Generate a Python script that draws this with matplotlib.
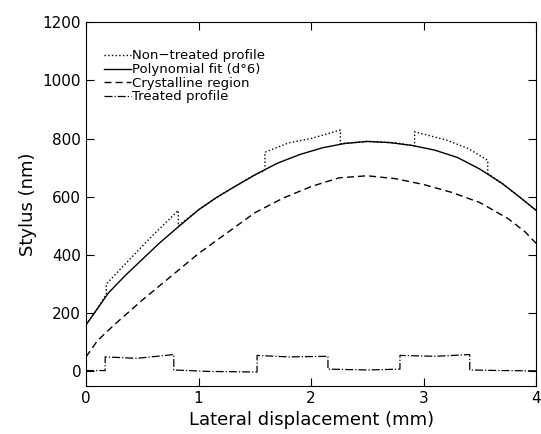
import numpy as np
import matplotlib
matplotlib.use("Agg")
import matplotlib.pyplot as plt

# polynomial fit (solid)
fit_x = [0, 0.1, 0.2, 0.35, 0.5, 0.65, 0.8, 1.0, 1.15, 1.3, 1.5, 1.7, 1.9, 2.1, 2.3, 2.5,
         2.7, 2.9, 3.1, 3.3, 3.5, 3.7, 3.85, 4.0]
fit_y = [160, 215, 270, 330, 385, 440, 490, 555, 595, 630, 675, 715, 745, 768, 783, 790,
         786, 776, 760, 735, 695, 645, 600, 553]

# crystalline region (dashed)
cry_x = [0, 0.1, 0.25, 0.5, 0.75, 1.0, 1.25, 1.5, 1.75, 2.0, 2.25, 2.5, 2.75, 3.0, 3.25,
         3.5, 3.75, 3.9, 4.0]
cry_y = [50, 105, 160, 245, 325, 405, 475, 545, 595, 635, 665, 672, 662, 642, 615, 580,
         525, 480, 440]

# non-treated profile (dotted)
raw_x = [0, 0.1, 0.18, 0.18, 0.4, 0.6, 0.82, 0.82, 1.0, 1.15, 1.3, 1.5, 1.59, 1.59, 1.8,
         2.0, 2.26, 2.26, 2.5, 2.75, 2.92, 2.92, 3.2, 3.4, 3.57, 3.57, 3.7, 3.85, 4.0]
raw_y = [160, 215, 265, 300, 390, 470, 553, 500, 555, 595, 630, 675, 690, 753, 785,
         800, 829, 782, 790, 785, 775, 823, 795, 765, 725, 680, 645, 600, 553]

# treated profile (dash-dot)
trt_x = [0, 0.17, 0.17, 0.45, 0.78, 0.78, 1.1, 1.52, 1.52, 1.8, 2.15, 2.15, 2.5, 2.79,
         2.79, 3.1, 3.41, 3.41, 3.7, 4.0]
trt_y = [3, 3, 50, 45, 58, 5, 0, -2, 55, 50, 52, 8, 5, 8, 55, 52, 58, 5, 3, 2]

plt.rcParams['font.family'] = ['DejaVu Sans']
fig = plt.figure(figsize=(5.41, 4.34), dpi=100)
ax = fig.add_axes([0.159, 0.1106, 0.832, 0.8386])

ax.plot(raw_x, raw_y, ':', color='k', lw=1.0, label='Non\u2212treated profile')
ax.plot(fit_x, fit_y, '-', color='k', lw=1.0, label='Polynomial fit (d\u00b06)')
ax.plot(cry_x, cry_y, '--', color='k', lw=1.0, dashes=(5, 3), label='Crystalline region')
ax.plot(trt_x, trt_y, '-.', color='k', lw=0.9, label='Treated profile')

ax.set_xlim(0, 4)
ax.set_ylim(-50, 1200)
ax.set_xticks([0, 1, 2, 3, 4])
ax.set_yticks(range(0, 1201, 200))
ax.tick_params(direction='in', top=True, right=True, length=6, labelsize=11)
ax.set_xlabel('Lateral displacement (mm)', fontsize=13)
ax.set_ylabel('Stylus (nm)', fontsize=13)

ax.legend(loc='upper left', bbox_to_anchor=(0.02, 0.95), frameon=False, fontsize=9.5,
          handlelength=2.0, handletextpad=0.1, labelspacing=0.05, borderaxespad=0.3)

fig.savefig('out.png', dpi=100)
